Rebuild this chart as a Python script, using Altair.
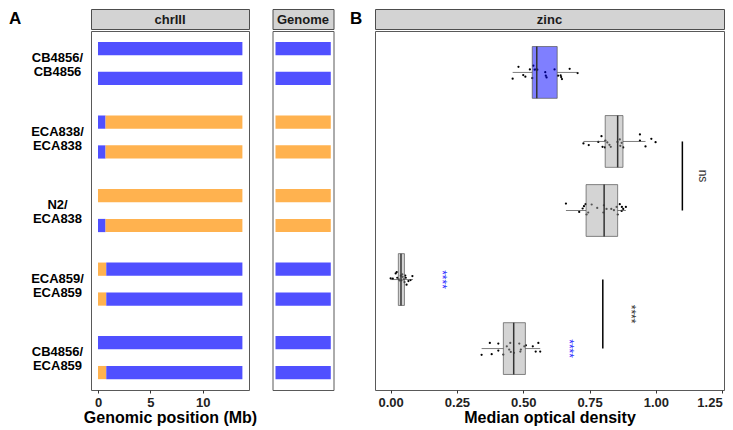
import json
import numpy as np
import pandas as pd
import altair as alt

FONT = "Liberation Sans"

# ---------------- Panel A data ----------------
strain_top = ["CB4856", "ECA838", "N2", "ECA859", "CB4856"]
strain_bottom = ["CB4856", "ECA838", "ECA838", "ECA859", "ECA859"]

seg_strain = [0, 0, 1, 1, 1, 1, 2, 2, 2, 3, 3, 3, 3, 4, 4, 4]
seg_hap = [1, 2, 1, 1, 2, 2, 1, 2, 2, 1, 1, 2, 2, 1, 2, 2]
seg_start = [0, 0, 0, 0.72, 0, 0.72, 0, 0, 0.72, 0, 0.79, 0, 0.79, 0, 0, 0.79]
seg_end = [13.78, 13.78, 0.72, 13.78, 0.72, 13.78, 13.78, 0.72, 13.78,
           0.79, 13.78, 0.79, 13.78, 13.78, 0.79, 13.78]
seg_geno = ["CB4856", "CB4856", "CB4856", "N2", "CB4856", "N2", "N2", "CB4856", "N2",
            "N2", "CB4856", "N2", "CB4856", "CB4856", "N2", "CB4856"]

gen_strain = [0, 0, 1, 1, 2, 2, 3, 3, 4, 4]
gen_hap = [1, 2, 1, 2, 1, 2, 1, 2, 1, 2]
gen_geno = ["CB4856", "CB4856", "N2", "N2", "N2", "N2", "CB4856", "CB4856", "CB4856", "CB4856"]

# ---------------- Panel B data ----------------
box_q1 = [0.534, 0.809, 0.737, 0.029, 0.425]
box_med = [0.551, 0.856, 0.805, 0.039, 0.464]
box_q3 = [0.628, 0.876, 0.856, 0.052, 0.508]
box_lo = [0.460, 0.727, 0.661, 0.000, 0.343]
box_hi = [0.705, 0.961, 0.887, 0.084, 0.564]
box_kind = ["parent", "other", "other", "other", "other"]

pt_vals = [
    [0.460, 0.482, 0.500, 0.508, 0.525, 0.534, 0.538, 0.543, 0.549, 0.553,
     0.583, 0.585, 0.588, 0.618, 0.631, 0.641, 0.643, 0.646, 0.675, 0.705],
    [0.727, 0.747, 0.783, 0.795, 0.799, 0.808, 0.810, 0.817, 0.825, 0.830,
     0.855, 0.864, 0.866, 0.871, 0.877, 0.940, 0.940, 0.961, 0.983, 0.999],
    [0.661, 0.711, 0.724, 0.729, 0.735, 0.739, 0.745, 0.758, 0.779, 0.802,
     0.804, 0.814, 0.832, 0.842, 0.852, 0.856, 0.864, 0.871, 0.872, 0.877, 0.887],
    [0.000, 0.008, 0.019, 0.023, 0.025, 0.031, 0.034, 0.038, 0.041, 0.044,
     0.045, 0.049, 0.052, 0.055, 0.057, 0.060, 0.067, 0.075, 0.082],
    [0.343, 0.374, 0.381, 0.406, 0.406, 0.425, 0.438, 0.447, 0.451, 0.453,
     0.465, 0.485, 0.489, 0.491, 0.504, 0.510, 0.536, 0.547, 0.557, 0.564],
]
pt_jit = [
    [0.091, -0.082, 0.039, 0.062, -0.043, 0.082, -0.097, -0.039, -0.043, -0.039,
     -0.004, 0.048, 0.072, -0.043, 0.048, 0.043, 0.068, 0.097, -0.053, 0.010],
    [0.029, 0.053, 0.006, -0.076, 0.078, 0.087, -0.014, 0.014, 0.049, 0.078,
     0.006, -0.029, 0.063, 0.020, 0.087, -0.101, -0.014, 0.072, -0.038, 0.010],
    [-0.101, 0.020, -0.029, -0.062, -0.091, 0.058, 0.029, -0.087, -0.038, 0.029,
     -0.076, -0.023, -0.023, -0.004, -0.052, 0.058, -0.091, 0.006, -0.052, -0.023, -0.052],
    [-0.017, -0.012, -0.089, -0.108, -0.026, -0.003, 0.014, -0.055, 0.012, -0.075,
     -0.040, -0.003, 0.036, -0.058, -0.026, 0.075, 0.022, 0.007, -0.051],
    [0.091, -0.082, 0.082, -0.072, 0.029, 0.087, -0.033, 0.014, -0.082, 0.048,
     0.062, -0.072, 0.043, 0.014, -0.033, -0.048, -0.033, 0.043, -0.082, 0.043],
]

br_from = [1, 3]
br_to = [2, 4]
br_x = [1.10, 0.80]
br_label = ["ns", "****"]
br_label_x = [1.179, 0.908]

star_strain = [3, 4]
star_x = [0.192, 0.674]
star_label = ["****", "****"]

# ---------------- frames ----------------
HAP_OFF = 0.203
BAR_HALF = 0.09
BOX_HALF = 0.375

chr_df = pd.DataFrame({"strain": seg_strain, "hap": seg_hap, "start": seg_start,
                       "end": seg_end, "geno": seg_geno})
chr_df["yc"] = chr_df["strain"] + 1 + np.where(chr_df["hap"] == 1, -HAP_OFF, HAP_OFF)
chr_df["y0"] = chr_df["yc"] - BAR_HALF
chr_df["y1"] = chr_df["yc"] + BAR_HALF

gen_df = pd.DataFrame({"strain": gen_strain, "hap": gen_hap, "geno": gen_geno})
gen_df["start"] = 0.0
gen_df["end"] = 1.0
gen_df["yc"] = gen_df["strain"] + 1 + np.where(gen_df["hap"] == 1, -HAP_OFF, HAP_OFF)
gen_df["y0"] = gen_df["yc"] - BAR_HALF
gen_df["y1"] = gen_df["yc"] + BAR_HALF

rows = []
for i, (xs, js) in enumerate(zip(pt_vals, pt_jit)):
    for v, j in zip(xs, js):
        rows.append({"strain": i, "value": v, "jit": j})
pts_df = pd.DataFrame(rows)
pts_df["y"] = pts_df["strain"] + 1 + pts_df["jit"]

box_df = pd.DataFrame({"q1": box_q1, "med": box_med, "q3": box_q3, "lo": box_lo,
                       "hi": box_hi, "kind": box_kind})
box_df["y"] = np.arange(len(box_df)) + 1
box_df["yb0"] = box_df["y"] - BOX_HALF
box_df["yb1"] = box_df["y"] + BOX_HALF

br_df = pd.DataFrame({"ya": np.array(br_from) + 1, "yb": np.array(br_to) + 1, "x": br_x,
                      "label": br_label, "lx": br_label_x})
br_df["ym"] = (br_df["ya"] + br_df["yb"]) / 2

star_df = pd.DataFrame({"y": np.array(star_strain) + 1, "x": star_x, "label": star_label})

# ---------------- geometry ----------------
STRIP_H = 20
PANEL_H = 359
CHR_W = 158
GEN_W = 61
ZN_W = 349

geno_color = alt.Scale(domain=["CB4856", "N2"], range=["#5050FF", "#FFB24F"])
y_gen_scale = alt.Scale(domain=[0.558, 5.44], reverse=True, nice=False, zero=False)

labels_js = json.dumps([[t + "/", b] for t, b in zip(strain_top, strain_bottom)])


def strip(label, w, tag=None, tag_dx=0):
    base = alt.Chart(pd.DataFrame({"label": [label]}))
    layers = [base.mark_text(font=FONT, fontWeight="bold", fontSize=13, color="#1A1A1A").encode(
        text="label:N", x=alt.value(w / 2), y=alt.value(STRIP_H / 2 + 0.5))]
    if tag:
        layers.append(base.mark_text(font=FONT, fontWeight="bold", fontSize=17, color="#000000",
                                     align="left", baseline="alphabetic").encode(
            text=alt.value(tag), x=alt.value(tag_dx), y=alt.value(15)))
    return alt.layer(*layers).properties(
        width=w, height=STRIP_H,
        view=alt.ViewBackground(fill="#D3D3D3", stroke="#4D4D4D", strokeWidth=1))


chr_panel = alt.Chart(chr_df).mark_rect().encode(
    x=alt.X("start:Q", scale=alt.Scale(domain=[-0.667, 14.41], nice=False, zero=False),
            axis=alt.Axis(values=[0, 5, 10], title="Genomic position (Mb)")),
    x2="end:Q",
    y=alt.Y("y0:Q", scale=y_gen_scale,
            axis=alt.Axis(values=[1, 2, 3, 4, 5], labelExpr=f"{labels_js}[datum.value - 1]",
                          ticks=False, tickSize=0, labelAlign="center", labelBaseline="middle",
                          labelPadding=34, labelLineHeight=14, labelOffset=-6,
                          labelColor="#000000", title="")),
    y2="y1:Q",
    color=alt.Color("geno:N", scale=geno_color, legend=None),
).properties(width=CHR_W, height=PANEL_H)

gen_panel = alt.Chart(gen_df).mark_rect().encode(
    x=alt.X("start:Q", scale=alt.Scale(domain=[-0.054, 1.049], nice=False, zero=False), axis=None),
    x2="end:Q",
    y=alt.Y("y0:Q", scale=y_gen_scale, axis=None),
    y2="y1:Q",
    color=alt.Color("geno:N", scale=geno_color, legend=None),
).properties(width=GEN_W, height=PANEL_H)

x_zn_scale = alt.Scale(domain=[-0.059, 1.257], nice=False, zero=False)
x_zn_axis = alt.Axis(values=[0, 0.25, 0.5, 0.75, 1.0, 1.25], format=".2f",
                     labelFlush=3, title="Median optical density")
y_zn_scale = alt.Scale(domain=[0.4, 5.6], reverse=True, nice=False, zero=False)

pts_layer = alt.Chart(pts_df).mark_circle(size=5, color="#000000", opacity=1).encode(
    x=alt.X("value:Q", scale=x_zn_scale, axis=x_zn_axis),
    y=alt.Y("y:Q", scale=y_zn_scale, axis=None),
)
box_base = alt.Chart(box_df)
box_layer = box_base.mark_rect(stroke="#555555", strokeWidth=0.7, fillOpacity=0.5).encode(
    x=alt.X("q1:Q", scale=x_zn_scale, axis=x_zn_axis),
    x2="q3:Q",
    y=alt.Y("yb0:Q", scale=y_zn_scale, axis=None),
    y2="yb1:Q",
    fill=alt.Fill("kind:N", scale=alt.Scale(domain=["parent", "other"],
                                             range=["#0000FF", "#A9A9A9"]), legend=None),
)
med_layer = box_base.mark_rule(color="#333333", strokeWidth=1.5).encode(
    x=alt.X("med:Q", scale=x_zn_scale, axis=x_zn_axis),
    y=alt.Y("yb0:Q", scale=y_zn_scale, axis=None),
    y2="yb1:Q",
)
wlo_layer = box_base.mark_rule(color="#444444", strokeWidth=0.7).encode(
    x=alt.X("lo:Q", scale=x_zn_scale, axis=x_zn_axis),
    x2="q1:Q",
    y=alt.Y("y:Q", scale=y_zn_scale, axis=None),
)
whi_layer = box_base.mark_rule(color="#444444", strokeWidth=0.7).encode(
    x=alt.X("q3:Q", scale=x_zn_scale, axis=x_zn_axis),
    x2="hi:Q",
    y=alt.Y("y:Q", scale=y_zn_scale, axis=None),
)
br_base = alt.Chart(br_df)
br_layer = br_base.mark_rule(color="#000000", strokeWidth=1.5).encode(
    x=alt.X("x:Q", scale=x_zn_scale, axis=x_zn_axis),
    y=alt.Y("ya:Q", scale=y_zn_scale, axis=None),
    y2="yb:Q",
)
br_text = br_base.mark_text(font=FONT, fontSize=12, angle=90, color="#333333").encode(
    x=alt.X("lx:Q", scale=x_zn_scale, axis=x_zn_axis),
    y=alt.Y("ym:Q", scale=y_zn_scale, axis=None),
    text="label:N",
)
star_text = alt.Chart(star_df).mark_text(font=FONT, fontSize=12, angle=90, color="#2F2FFF").encode(
    x=alt.X("x:Q", scale=x_zn_scale, axis=x_zn_axis),
    y=alt.Y("y:Q", scale=y_zn_scale, axis=None),
    text="label:N",
)

zn_panel = alt.layer(pts_layer, box_layer, med_layer, wlo_layer, whi_layer,
                     br_layer, br_text, star_text).properties(width=ZN_W, height=PANEL_H)

chr_col = alt.vconcat(strip("chrIII", CHR_W, tag="A", tag_dx=-82), chr_panel, spacing=0)
gen_col = alt.vconcat(strip("Genome", GEN_W), gen_panel, spacing=0)
zn_col = alt.vconcat(strip("zinc", ZN_W, tag="B", tag_dx=-25), zn_panel, spacing=0)

left = alt.hconcat(chr_col, gen_col, spacing=13.5)
chart = alt.hconcat(
    left, zn_col, spacing=15,
    padding={"left": 0, "top": 0, "right": 0, "bottom": 0},
    autosize=alt.AutoSizeParams(type="pad"),
).configure_view(
    stroke="#595959", strokeWidth=1
).configure_axis(
    grid=False, domain=False,
    labelFont=FONT, titleFont=FONT,
    labelFontWeight="bold", titleFontWeight="bold",
    labelFontSize=13, titleFontSize=16,
    labelColor="#222222", titleColor="#000000",
    tickColor="#333333", tickSize=3, labelPadding=3, titlePadding=0,
)

chart.save("out.html", embed_options={"renderer": "svg", "actions": False})
